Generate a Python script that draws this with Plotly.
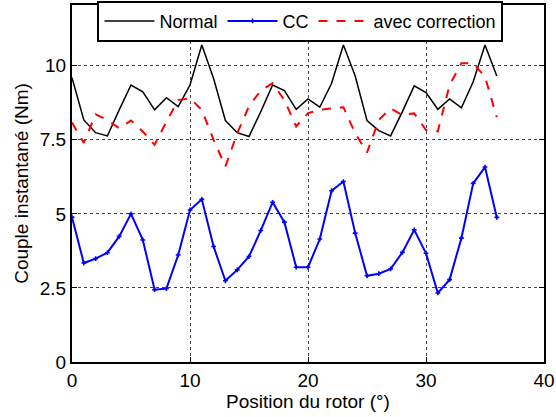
import plotly.graph_objects as go

positions = list(range(0, 37))

normal = [9.60, 8.17, 7.74, 7.63, 8.51, 9.35, 9.12, 8.51, 8.92, 8.62,
          9.35, 10.70, 9.57, 8.15, 7.74, 7.61, 8.45, 9.35, 9.16, 8.53,
          8.88, 8.60, 9.41, 10.70, 9.65, 8.15, 7.81, 7.63, 8.45, 9.32,
          9.09, 8.53, 8.88, 8.58, 9.46, 10.70, 9.65]

cc = [4.89, 3.34, 3.49, 3.69, 4.24, 5.00, 4.12, 2.44, 2.48, 3.61,
      5.13, 5.49, 3.90, 2.74, 3.11, 3.56, 4.44, 5.39, 4.72, 3.20,
      3.20, 4.15, 5.78, 6.09, 4.35, 2.91, 2.98, 3.14, 3.70, 4.46,
      3.67, 2.33, 2.78, 4.18, 6.03, 6.58, 4.88]

correction = [8.08, 7.40, 8.36, 8.17, 7.89, 8.15, 7.78, 7.33, 8.11, 8.84,
              8.90, 8.51, 7.50, 6.60, 7.72, 8.64, 9.16, 9.41, 8.84, 7.95,
              8.40, 8.51, 8.56, 8.60, 7.72, 7.07, 8.17, 8.56, 8.34, 8.39,
              7.83, 7.78, 9.35, 10.08, 10.08, 9.63, 8.26]

x_ticks = [0, 10, 20, 30, 40]
y_ticks = [0, 2.5, 5, 7.5, 10]
y_tick_labels = ["0", "2.5", "5", "7.5", "10"]

FONT = "Liberation Sans, Arial, sans-serif"

fig = go.Figure()
fig.add_trace(go.Scatter(x=positions, y=normal, mode="lines", name="Normal",
                         line=dict(color="black", width=1.5)))
fig.add_trace(go.Scatter(x=positions, y=cc, mode="lines+markers", name="CC",
                         line=dict(color="#0000ff", width=2),
                         marker=dict(symbol="cross", size=4, color="#0000ff")))
fig.add_trace(go.Scatter(x=positions, y=correction, mode="lines", name="avec correction",
                         line=dict(color="#ff0000", width=2, dash="dash")))

axis_common = dict(
    showline=True, linecolor="black", linewidth=2, mirror="ticks",
    ticks="inside", ticklen=5, tickcolor="black", tickwidth=1,
    showgrid=True, gridcolor="#444444", gridwidth=1, griddash="dot",
    zeroline=False,
    tickfont=dict(family=FONT, size=19, color="black"),
    title_font=dict(family=FONT, size=19, color="black"),
)

fig.update_xaxes(range=[0, 40], tickvals=x_ticks, title_text="Position du rotor (°)",
                 title_standoff=2, **axis_common)
fig.update_yaxes(range=[0, 12.05], tickvals=y_ticks, ticktext=y_tick_labels,
                 title_text="Couple instantané (Nm)", title_standoff=6, **axis_common)

fig.update_layout(
    width=556, height=417,
    margin=dict(l=72, r=12, t=5, b=55, autoexpand=False),
    plot_bgcolor="white", paper_bgcolor="white",
    font=dict(family=FONT, size=19, color="black"),
    legend=dict(orientation="h", x=0.054, y=1.012, xanchor="left", yanchor="top",
                bgcolor="white", bordercolor="black", borderwidth=2,
                font=dict(family=FONT, size=18), itemwidth=50, tracegroupgap=0),
    showlegend=True,
)

fig.write_html("out.html", config={"displayModeBar": False},
               post_script="document.body.style.margin='0';document.body.style.padding='0';")
